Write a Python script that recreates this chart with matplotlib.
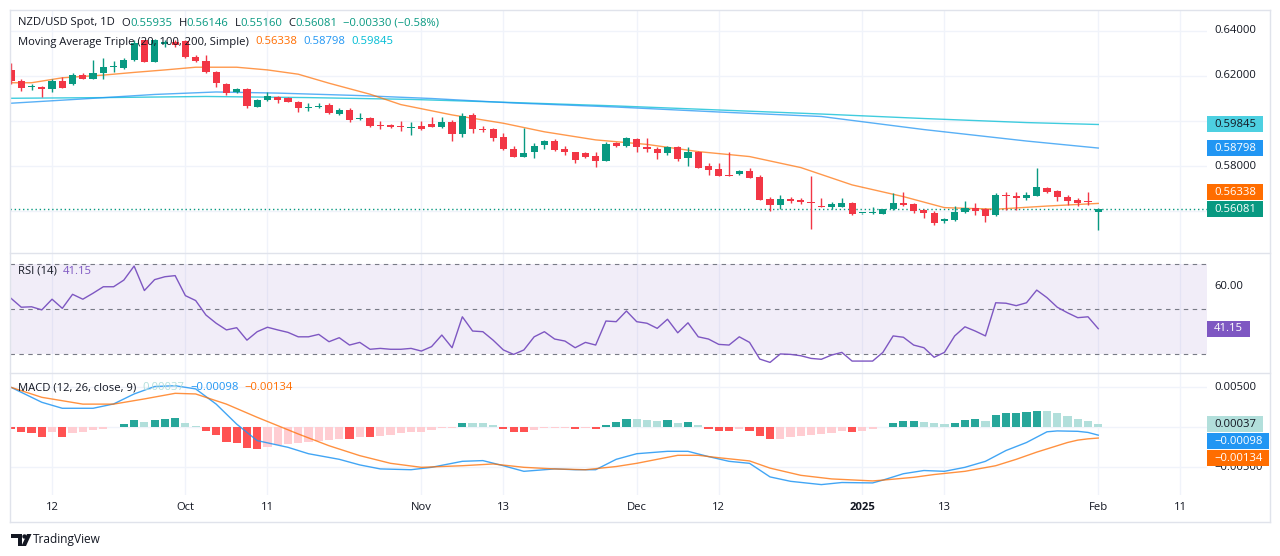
import numpy as np
import pandas as pd
import matplotlib
matplotlib.use('Agg')
import matplotlib.pyplot as plt
from matplotlib.patches import Rectangle, Polygon, Circle

FONT = ['Open Sans', 'DejaVu Sans']
plt.rcParams['font.family'] = FONT

# ---------------- data (daily bars, Sep 6 2024 .. Feb 3 2025) ----------------
dates = pd.bdate_range('2024-09-06', '2025-02-03')

opens = [
    .6227, .6179, .6150, .6152, .6141, .6179, .6163, .6204, .6187, .6212,
    .6242, .6234, .6271, .6358, .6264, .6342, .6349, .6356, .6286, .6268,
    .6219, .6163, .6128, .6141, .6064, .6093, .6108, .6101, .6086, .6059,
    .6064, .6071, .6031, .6049, .6008, .6015, .5980, .5982, .5975, .5971,
    .5978, .5985, .5972, .5994, .5941, .6027, .5963, .5964, .5928, .5876,
    .5841, .5861, .5893, .5911, .5874, .5861, .5856, .5844, .5824, .5901,
    .5889, .5920, .5886, .5876, .5856, .5883, .5837, .5864, .5800, .5785,
    .5760, .5763, .5778, .5750, .5653, .5627, .5652, .5649, .5641, .5622,
    .5616, .5619, .5637, .5589, .5593, .5587, .5609, .5637, .5630, .5604,
    .5593, .5554, .5560, .5594, .5615, .5608, .5582, .5671, .5667, .5659,
    .5668, .5701, .5689, .5664, .5649, .5645, .55935]
highs = [
    .6256, .6185, .6164, .6156, .6185, .6196, .6212, .6212, .6271, .6279,
    .6268, .6279, .6360, .6360, .6364, .6360, .6360, .6360, .6293, .6293,
    .6222, .6170, .6147, .6145, .6098, .6130, .6111, .6107, .6089, .6079,
    .6080, .6079, .6056, .6056, .6034, .6018, .6000, .5987, .6001, .5997,
    .6000, .6019, .6019, .6004, .6037, .6034, .5978, .5970, .5945, .5889,
    .5968, .5901, .5916, .5920, .5889, .5864, .5864, .5864, .5908, .5908,
    .5930, .5923, .5923, .5886, .5889, .5889, .5883, .5867, .5812, .5815,
    .5864, .5782, .5790, .5760, .5664, .5671, .5664, .5656, .5756, .5658,
    .5641, .5656, .5641, .5592, .5616, .5610, .5679, .5686, .5637, .5609,
    .5600, .5568, .5622, .5646, .5634, .5615, .5681, .5686, .5686, .5686,
    .5790, .5705, .5693, .5671, .5656, .5686, .56146]
lows = [
    .6164, .6135, .6138, .6105, .6130, .6145, .6160, .6185, .6185, .6185,
    .6219, .6230, .6267, .6262, .6260, .6329, .6329, .6282, .6264, .6212,
    .6152, .6116, .6124, .6056, .6062, .6090, .6079, .6084, .6041, .6046,
    .6058, .6031, .6027, .5997, .6004, .5973, .5963, .5969, .5957, .5938,
    .5960, .5972, .5971, .5911, .5930, .5948, .5952, .5911, .5871, .5840,
    .5840, .5837, .5874, .5867, .5849, .5815, .5834, .5797, .5824, .5886,
    .5886, .5864, .5864, .5831, .5849, .5822, .5800, .5790, .5760, .5756,
    .5754, .5760, .5745, .5649, .5600, .5609, .5634, .5631, .5519, .5616,
    .5609, .5616, .5582, .5587, .5587, .5586, .5604, .5622, .5593, .5570,
    .5538, .5545, .5557, .5590, .5582, .5552, .5578, .5604, .5604, .5649,
    .5667, .5679, .5646, .5627, .5622, .5627, .55160]
closes = [
    .6179, .6145, .6151, .6141, .6179, .6148, .6204, .6187, .6212, .6241,
    .6245, .6271, .6348, .6264, .6360, .6349, .6338, .6286, .6268, .6216,
    .6170, .6126, .6141, .6067, .6093, .6111, .6093, .6086, .6056, .6060,
    .6068, .6034, .6049, .6004, .6015, .5978, .5977, .5972, .5973, .5972,
    .5963, .5975, .5997, .5941, .6022, .5964, .5962, .5926, .5876, .5841,
    .5856, .5890, .5911, .5871, .5861, .5827, .5841, .5824, .5898, .5889,
    .5923, .5883, .5876, .5856, .5883, .5831, .5864, .5792, .5782, .5757,
    .5756, .5778, .5748, .5650, .5627, .5652, .5644, .5639, .5634, .5618,
    .5631, .5637, .5585, .5590, .5594, .5608, .5637, .5627, .5600, .5593,
    .5548, .5563, .5594, .5615, .5600, .5579, .5671, .5667, .5659, .5671,
    .5705, .5686, .5664, .5646, .5634, .56411, .56081]

# moving averages read at a few bars (bar number, value)
ma20_bar = [0, 2, 5, 9, 12, 15, 18, 22, 25, 28, 31, 35, 38, 43, 48, 52, 57, 62, 67, 72,
            77, 82, 87, 91, 96, 101, 106]
ma20_val = [.6170, .6170, .6192, .6204, .6216, .6227, .6239, .6239, .6227, .6208,
            .6168, .6119, .6073, .6027, .5990, .5952, .5916, .5896, .5864, .5842,
            .5793, .5716, .5664, .5615, .5608, .5622, .56338]
ma100_bar = [0, 7, 14, 20, 26, 34, 41, 49, 59, 69, 79, 89, 99, 106]
ma100_val = [.6079, .6098, .6118, .6129, .6124, .6113, .6100, .6080, .6062, .6040,
             .6020, .5962, .5911, .58798]
ma200_bar = [0, 9, 19, 29, 39, 49, 59, 69, 79, 89, 99, 106]
ma200_val = [.6101, .6104, .6109, .6104, .6096, .6082, .6067, .6049, .6031, .6011,
             .5993, .59845]

rsi = [
    54.8, 50.8, 51.0, 49.6, 54.4, 50.3, 56.6, 54.4, 57.1, 60.0,
    60.0, 63.0, 69.3, 58.3, 63.2, 64.5, 65.0, 56.0, 53.8, 47.3,
    43.6, 40.6, 41.6, 36.0, 39.8, 41.8, 40.6, 39.5, 37.5, 37.5,
    38.6, 35.3, 37.1, 33.8, 35.0, 31.9, 32.3, 31.9, 31.9, 32.3,
    31.1, 33.1, 38.3, 32.6, 46.5, 40.1, 39.8, 36.0, 31.6, 29.6,
    31.6, 37.5, 39.8, 36.5, 35.6, 32.6, 35.0, 33.8, 44.6, 44.3,
    49.1, 44.3, 43.6, 41.3, 45.4, 39.3, 43.8, 37.5, 36.5, 34.1,
    33.8, 37.5, 35.0, 27.5, 26.0, 29.8, 29.6, 29.0, 27.8, 27.4,
    29.3, 30.5, 26.6, 26.6, 26.6, 30.5, 37.9, 37.3, 33.8, 32.6,
    28.3, 30.5, 37.9, 42.0, 40.1, 37.9, 52.8, 52.6, 51.5, 52.8,
    58.5, 55.1, 50.8, 48.3, 46.1, 46.5, 41.15]

macd_hist = [
    -0.00025, -0.00054, -0.00075, -0.00117, -0.0006, -0.00117, -0.00075, -0.00054, -0.00033, -0.0002,
    0.00003, 0.0004, 0.0009, 0.0007, 0.0009, 0.0010, 0.00113, 0.0006, 0.00017, -0.0004,
    -0.00096, -0.0018, -0.0020, -0.0026, -0.0027, -0.0025, -0.0022, -0.0021, -0.0020, -0.0018,
    -0.00175, -0.0016, -0.0014, -0.00145, -0.0012, -0.00125, -0.0011, -0.00096, -0.00075, -0.0006,
    -0.00054, -0.00033, -0.0001, -0.00004, 0.0006, 0.0005, 0.00048, 0.0003, -0.00025, -0.00054,
    -0.0006, -0.00033, -0.00013, -0.0001, -0.00003, -0.00017, -0.00005, -0.00017, 0.0003, 0.0007,
    0.0011, 0.00105, 0.0009, 0.0008, 0.0009, 0.0006, 0.0007, 0.0003, -0.0002, -0.0004,
    -0.00045, -0.0002, -0.0004, -0.00105, -0.00146, -0.0014, -0.00117, -0.00105, -0.00095, -0.0008,
    -0.0007, -0.0005, -0.0006, -0.0004, -0.0002, 0.00005, 0.0006, 0.00083, 0.00085, 0.0007,
    0.0005, 0.0004, 0.0006, 0.0009, 0.0010, 0.00083, 0.0015, 0.00175, 0.00183, 0.0019,
    0.0021, 0.00204, 0.00175, 0.0014, 0.0011, 0.0008, 0.00037]
macd_bar = [0, 3, 5, 8, 10, 12, 14, 16, 18, 20, 22, 24, 27, 29, 32, 34, 36, 39, 41, 44,
            46, 48, 50, 53, 55, 57, 59, 61, 64, 66, 68, 70, 72, 74, 76, 79, 81, 84, 85, 87,
            89, 91, 93, 95, 97, 99, 101, 102, 104, 105, 106]
macd_val = [0.0050, 0.00313, 0.00238, 0.00238, 0.00292, 0.00417, 0.0051, 0.0052, 0.0048, 0.0029,
            0.0004, -0.00166, -0.0025, -0.0033, -0.0040, -0.0047, -0.0052, -0.0053, -0.0050, -0.00425,
            -0.00416, -0.0048, -0.0055, -0.0052, -0.0053, -0.0053, -0.0040, -0.0033, -0.0030, -0.0030,
            -0.00366, -0.00425, -0.0045, -0.0062, -0.00675, -0.00716, -0.0069, -0.00695, -0.0066, -0.0058,
            -0.0054, -0.0055, -0.0050, -0.00425, -0.0029, -0.0019, -0.00056, -0.00045, -0.0005, -0.00064,
            -0.00098]
signal_bar = [0, 3, 7, 10, 13, 16, 18, 21, 24, 28, 31, 34, 37, 40, 44, 47, 50, 53, 56, 59,
              61, 63, 65, 67, 69, 72, 74, 77, 80, 84, 85, 88, 90, 93, 96, 98, 100, 103, 104, 105,
              106]
signal_val = [0.0050, 0.00375, 0.0029, 0.0029, 0.00355, 0.00425, 0.00417, 0.0029, 0.00125, -0.00083,
              -0.0023, -0.00354, -0.0045, -0.0050, -0.0048, -0.00458, -0.0050, -0.0052, -0.0053, -0.0049,
              -0.0045, -0.0040, -0.0035, -0.0035, -0.0038, -0.0042, -0.0051, -0.0060, -0.00645, -0.0067,
              -0.0066, -0.00625, -0.0059, -0.0055, -0.0048, -0.0040, -0.0031, -0.0019, -0.0016, -0.00144,
              -0.00134]

# time axis labels (bar number, text); last one is in the empty future area
tick_bar = [4, 17, 25, 40, 48, 61, 69, 83, 91, 106, 114]
tick_txt = ['12', 'Oct', '11', 'Nov', '13', 'Dec', '12', '2025', '13', 'Feb', '11']

price_ticks = [0.64, 0.62, 0.60, 0.58, 0.56]
rsi_ticks = [60, 40]
macd_ticks = [0.005, 0.0, -0.005]

# ---------------- style ----------------
UP, DOWN = '#089981', '#F23645'
DARK = '#131722'
GRID = '#F0F3FA'
BORDER = '#E0E3EB'
C_MA20, C_MA100, C_MA200 = '#FF6D00', '#2196F3', '#00BCD4'
C_RSI = '#7E57C2'

W, H = 1280, 556
fig = plt.figure(figsize=(W / 100, H / 100), dpi=100)
fig.patch.set_facecolor('white')


def frame(x0, y0, x1, y1):
    return [x0 / W, 1 - y1 / H, (x1 - x0) / W, (y1 - y0) / H]


axp = fig.add_axes(frame(10, 10, 1207, 252.5))
axr = fig.add_axes(frame(10, 252.5, 1207, 373))
axm = fig.add_axes(frame(10, 373, 1207, 495))
ov = fig.add_axes([0, 0, 1, 1])
ov.set_xlim(0, W)
ov.set_ylim(H, 0)
ov.axis('off')
ov.set_zorder(10)
ov.patch.set_alpha(0)

x = np.arange(len(dates))
for ax in (axp, axr, axm):
    ax.set_xlim(-0.1, 116.6)
    for s in ax.spines.values():
        s.set_visible(False)
    ax.set_xticks([])
    ax.set_yticks([])
    for tb in tick_bar:
        ax.axvline(tb, color=GRID, lw=1, zorder=0)

axp.set_ylim(0.54156, 0.64933)
axr.set_ylim(21.24, 75.39)
axm.set_ylim(-0.00846, 0.00679)

# ---------------- price pane ----------------
for v in price_ticks:
    axp.axhline(v, color=GRID, lw=1, zorder=0)

o = np.array(opens)
c = np.array(closes)
hi = np.array(highs)
lo = np.array(lows)
col = np.where(c >= o, UP, DOWN)
px = 1 / 2250  # one pixel in price units
axp.vlines(x, lo, hi, colors=col, lw=1, zorder=3)
body_bot = np.minimum(o, c)
body_h = np.maximum(np.abs(c - o), px)
axp.bar(x, body_h, bottom=body_bot, width=0.7, color=col, lw=0, zorder=4)

axp.plot(ma200_bar, ma200_val, color=C_MA200, lw=1, alpha=0.75, zorder=2)
axp.plot(ma100_bar, ma100_val, color=C_MA100, lw=1, alpha=0.75, zorder=2)
axp.plot(ma20_bar, ma20_val, color=C_MA20, lw=1, alpha=0.7, zorder=2)
axp.axhline(closes[-1], color=UP, lw=1, ls=(0, (1, 2)), zorder=1)

# ---------------- RSI pane ----------------
axr.axhspan(30, 70, color=C_RSI, alpha=0.1, lw=0, zorder=0)
for v in (70, 50, 30):
    axr.axhline(v, color='#787B86', lw=0.8, ls=(0, (4, 4)), zorder=1)
axr.plot(x, rsi, color=C_RSI, lw=1, zorder=3)

# ---------------- MACD pane ----------------
for v in macd_ticks:
    axm.axhline(v, color=GRID, lw=1, zorder=0)
hcol = []
prev = None
for hv in macd_hist:
    if hv >= 0:
        hcol.append('#26A69A' if prev is None or hv > prev else '#B2DFDB')
    else:
        hcol.append('#FF5252' if prev is None or hv < prev else '#FFCDD2')
    prev = hv
axm.bar(x, macd_hist, width=0.8, color=hcol, lw=0, zorder=2)
axm.plot(macd_bar, macd_val, color=C_MA100, lw=1, alpha=0.85, zorder=3)
axm.plot(signal_bar, signal_val, color=C_MA20, lw=1, alpha=0.75, zorder=3)

# ---------------- overlay: frame, legends, scales ----------------
renderer = fig.canvas.get_renderer()


def ypix(ax, v):
    return H - ax.transData.transform((0, v))[1]


def xpix(ax, b):
    return ax.transData.transform((b, 0))[0]


for yy in (10, 252.5, 373, 522):
    ov.plot([10, 1270], [yy, yy], color=BORDER, lw=1)
for xx in (10, 1270):
    ov.plot([xx, xx], [10, 522], color=BORDER, lw=1)

LS = 8.1


def chain(x0, y0, parts, size=LS):
    xx = x0
    for txt, color, gap in parts:
        t = ov.text(xx, y0, txt, color=color, fontsize=size, va='center', ha='left')
        xx = t.get_window_extent(renderer).x1 + gap
    return xx


def fmt(v, d=5):
    return f'{v:.{d}f}'.replace('-', '\u2212')


chg = closes[-1] - closes[-2]
pct = chg / closes[-2] * 100
chain(18, 23, [('NZD/USD Spot, 1D', DARK, 7),
               ('O', DARK, 0), (fmt(opens[-1]), UP, 6),
               ('H', DARK, 0), (fmt(highs[-1]), UP, 6),
               ('L', DARK, 0), (fmt(lows[-1]), UP, 6),
               ('C', DARK, 0), (fmt(closes[-1]), UP, 6),
               (f'{fmt(chg)} ({fmt(pct, 2)}%)', UP, 0)])
chain(18, 42, [('Moving Average Triple (20, 100, 200, Simple)', DARK, 7),
               (fmt(ma20_val[-1]), C_MA20, 6), (fmt(ma100_val[-1]), C_MA100, 6),
               (fmt(ma200_val[-1]), C_MA200, 0)])
chain(18, 271, [('RSI (14)', DARK, 6), (f'{rsi[-1]:.2f}', C_RSI, 0)])
chain(18, 388, [('MACD (12, 26, close, 9)', DARK, 6), (fmt(macd_hist[-1]), '#B2DFDB', 6),
                (fmt(macd_val[-1]), C_MA100, 6), (fmt(signal_val[-1]), C_MA20, 0)])


def stack(ys, fixed, gap=17):
    out = list(ys)
    above = sorted([k for k in range(len(ys)) if k != fixed and ys[k] <= ys[fixed]], key=lambda k: -ys[k])
    p = out[fixed]
    for k in above:
        out[k] = min(ys[k], p - gap)
        p = out[k]
    below = sorted([k for k in range(len(ys)) if k != fixed and ys[k] > ys[fixed]], key=lambda k: ys[k])
    p = out[fixed]
    for k in below:
        out[k] = max(ys[k], p + gap)
        p = out[k]
    return out


def scale(ax, ticks, labels, fixed, tfmt):
    ys = [ypix(ax, v) for v, *_ in labels]
    ys = stack(ys, fixed)
    for tv in ticks:
        ty = ypix(ax, tv)
        if min(abs(ty - yy) for yy in ys) > 8:
            ov.text(1214, ty, tfmt(tv), color=DARK, fontsize=LS, va='center', ha='left', zorder=1)
    for (v, txt, bg, fg), yy in zip(labels, ys):
        t = ov.text(1214, yy, txt, color=fg, fontsize=LS, va='center', ha='left', zorder=6)
        bw = t.get_window_extent(renderer).x1 + 7 - 1207
        ov.add_patch(Rectangle((1207, yy - 8), bw, 16, color=bg, lw=0, zorder=5))


scale(axp, price_ticks,
      [(ma200_val[-1], fmt(ma200_val[-1]), '#4DD0E1', DARK),
       (ma100_val[-1], fmt(ma100_val[-1]), C_MA100, 'white'),
       (ma20_val[-1], fmt(ma20_val[-1]), C_MA20, 'white'),
       (closes[-1], fmt(closes[-1]), UP, 'white')], 3, lambda v: f'{v:.5f}')
scale(axr, rsi_ticks, [(rsi[-1], f'{rsi[-1]:.2f}', C_RSI, 'white')], 0, lambda v: f'{v:.2f}')
scale(axm, macd_ticks,
      [(macd_hist[-1], fmt(macd_hist[-1]), '#B2DFDB', DARK),
       (macd_val[-1], fmt(macd_val[-1]), C_MA100, 'white'),
       (signal_val[-1], fmt(signal_val[-1]), C_MA20, 'white')], 0, lambda v: fmt(v))

for tb, tt in zip(tick_bar, tick_txt):
    ov.text(xpix(axm, tb), 508, tt, color=DARK, fontsize=LS, va='center', ha='center',
            fontweight='bold' if tt.isdigit() and len(tt) == 4 else 'normal')

# TradingView mark
ov.add_patch(Polygon([[11, 534], [22, 534], [22, 546], [18, 546], [18, 538], [11, 538]], color=DARK, lw=0))
ov.add_patch(Circle((24.5, 536.5), 2.2, color=DARK, lw=0))
ov.add_patch(Polygon([[27, 534], [31.5, 534], [26, 546], [21.5, 546]], color=DARK, lw=0))
ov.text(33, 540, 'TradingView', color=DARK, fontsize=8.6, va='center', ha='left')

fig.savefig('out.png', dpi=100, facecolor='white')
